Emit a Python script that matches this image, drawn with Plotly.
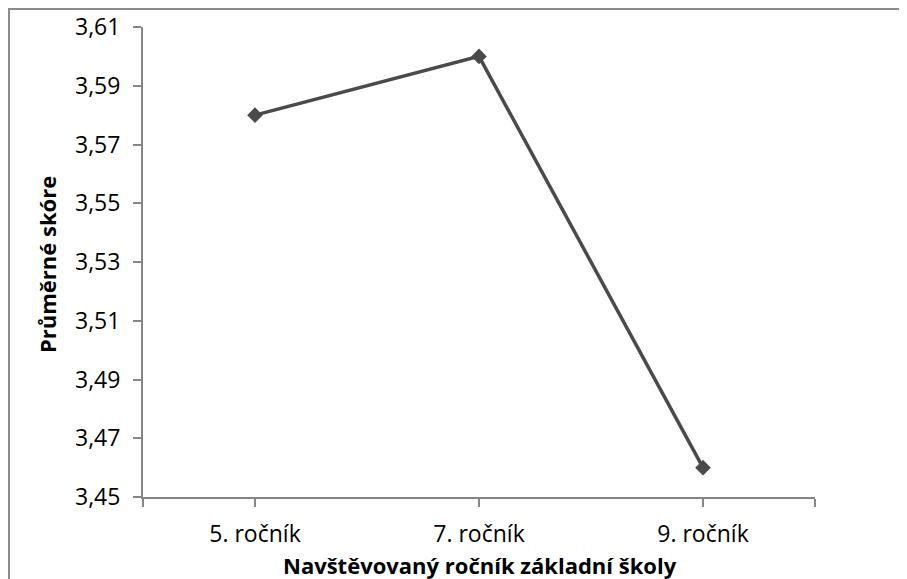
import plotly.graph_objects as go

categories = ["5. ročník", "7. ročník", "9. ročník"]
scores = [3.58, 3.60, 3.46]
y_ticks = [3.45, 3.47, 3.49, 3.51, 3.53, 3.55, 3.57, 3.59, 3.61]

# the page body adds an 8px offset; figure coords = screen coords - 8
OFF = 8
W, H = 907 - OFF, 579 - OFF
L, T = 143 - OFF, 27 - OFF
R = W - (815 - OFF)
B = H - (497 - OFF)
pw, ph = W - L - R, H - T - B

x_idx = list(range(len(categories)))

def px_x(p):
    return (p - OFF - L) / pw

def px_y(p):
    return (H - B - (p - OFF)) / ph

fig = go.Figure()
fig.add_trace(go.Scatter(
    x=x_idx, y=scores, mode="lines+markers",
    line=dict(color="#4a4a4a", width=3.5),
    marker=dict(symbol="diamond", size=12, color="#4a4a4a"),
    showlegend=False, hoverinfo="skip",
))

font = "Open Sans, sans-serif"
axis_col = "#868686"
fig.update_layout(
    width=W, height=H,
    margin=dict(l=L, r=R, t=T, b=B, autoexpand=False),
    paper_bgcolor="white", plot_bgcolor="white",
    separators=", ",
    font=dict(family=font, size=23, color="#000000"),
    xaxis=dict(
        range=[-0.5, len(categories) - 0.5],
        tickvals=[-0.5] + x_idx + [len(categories) - 0.5],
        ticktext=[""] + categories + [""],
        showgrid=False, zeroline=False, automargin=False,
        showline=True, linecolor=axis_col, linewidth=2,
        ticks="outside", ticklen=8, tickwidth=2, tickcolor=axis_col,
        tickfont=dict(size=23), ticklabelstandoff=7,
    ),
    yaxis=dict(
        range=[y_ticks[0], y_ticks[-1]],
        tickvals=y_ticks,
        tickformat=".2f",
        showgrid=False, zeroline=False, automargin=False,
        showline=True, linecolor=axis_col, linewidth=2,
        ticks="outside", ticklen=8, tickwidth=2, tickcolor=axis_col,
        tickfont=dict(size=23), ticklabelstandoff=8,
    ),
)

# axis titles
fig.add_annotation(
    text="<b>Navštěvovaný ročník základní školy</b>",
    xref="paper", yref="paper", x=px_x(480), y=px_y(565),
    xanchor="center", yanchor="middle", showarrow=False,
    font=dict(size=22, family=font),
)
fig.add_annotation(
    text="<b>Průměrné skóre</b>",
    xref="paper", yref="paper", x=px_x(47), y=px_y(265),
    xanchor="center", yanchor="middle", showarrow=False, textangle=-90,
    font=dict(size=22, family=font),
)

# outer chart border
fig.add_shape(
    type="rect", xref="paper", yref="paper",
    x0=px_x(9), x1=px_x(906), y0=px_y(640), y1=px_y(9),
    line=dict(color="#8c8c8c", width=2), layer="below",
)

fig.write_html("out.html")
